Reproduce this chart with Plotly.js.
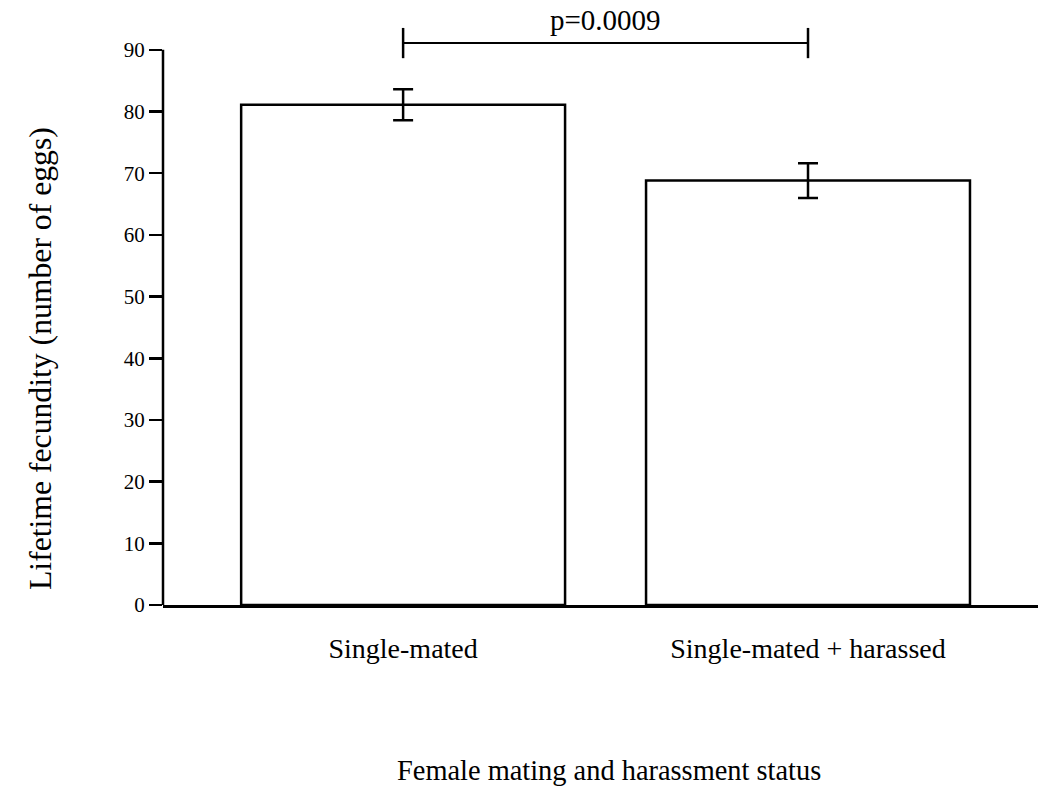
<!DOCTYPE html>
<html>
<head>
<meta charset="utf-8">
<script src="https://cdn.plot.ly/plotly-3.0.1.min.js"></script>
<style>
  html, body { margin: 0; padding: 0; background: #fff; }
  #chart { width: 1038px; height: 788px; }
</style>
</head>
<body>
<div id="chart"></div>
<script>
// Lifetime fecundity by female mating / harassment treatment
const groups = ['Single-mated', 'Single-mated + harassed'];
const meanEggs = [81.1, 68.8];
const seEggs = [2.5, 2.8];
const yTicks = [0, 10, 20, 30, 40, 50, 60, 70, 80, 90];

// significance bracket between the two groups
const pLabel = 'p=0.0009';
const bracketLevel = 91.1;
const bracketTickHalf = 2.45;

const xTitle = 'Female mating and harassment status';
const yTitle = 'Lifetime fecundity (number of eggs)';

const serif = 'Liberation Serif, Times New Roman, serif';
const ink = '#000';

const bars = {
  type: 'bar',
  x: groups,
  y: meanEggs,
  width: 0.8,
  marker: { color: '#fff', line: { color: ink, width: 2.5 } },
  error_y: {
    type: 'data', array: seEggs, visible: true,
    color: ink, thickness: 2.5, width: 10
  },
  hoverinfo: 'x+y'
};

const shapes = [
  // y axis line stops at the top tick
  { type: 'line', xref: 'paper', yref: 'y', x0: 0, x1: 0,
    y0: yTicks[0], y1: yTicks[yTicks.length - 1],
    line: { color: ink, width: 2.5 } },
  // bracket
  { type: 'line', xref: 'x', yref: 'y', x0: 0, x1: 1,
    y0: bracketLevel, y1: bracketLevel, line: { color: ink, width: 2 } },
  { type: 'line', xref: 'x', yref: 'y', x0: 0, x1: 0,
    y0: bracketLevel - bracketTickHalf, y1: bracketLevel + bracketTickHalf,
    line: { color: ink, width: 2.5 } },
  { type: 'line', xref: 'x', yref: 'y', x0: 1, x1: 1,
    y0: bracketLevel - bracketTickHalf, y1: bracketLevel + bracketTickHalf,
    line: { color: ink, width: 2.5 } }
];

const layout = {
  width: 1038,
  height: 788,
  margin: { l: 163, r: 0, t: 19, b: 183 },
  paper_bgcolor: '#fff',
  plot_bgcolor: '#fff',
  showlegend: false,
  font: { family: serif, color: ink, size: 21 },
  xaxis: {
    type: 'category',
    range: [-0.593, 1.568],
    showline: true, linecolor: ink, linewidth: 2.5,
    ticks: '', showgrid: false, zeroline: false,
    ticklabelstandoff: 17,
    tickfont: { family: serif, size: 28, color: ink }
  },
  yaxis: {
    range: [0, 95],
    tickvals: yTicks,
    ticktext: yTicks.map(String),
    showline: false, showgrid: false, zeroline: false,
    ticks: 'outside', ticklen: 13, tickwidth: 2.5, tickcolor: ink,
    tickfont: { family: serif, size: 21, color: ink }
  },
  shapes: shapes,
  annotations: [
    {
      xref: 'x', yref: 'y', x: 0.5, y: bracketLevel,
      text: pLabel, showarrow: false, yanchor: 'bottom', yshift: 5,
      font: { family: serif, size: 29, color: ink }
    },
    {
      xref: 'paper', yref: 'paper', x: 0.5097, y: -0.2816,
      text: xTitle, showarrow: false, xanchor: 'center', yanchor: 'middle',
      font: { family: serif, size: 28.4, color: ink }
    },
    {
      xref: 'paper', yref: 'paper', x: -0.1394, y: 0.4198,
      text: yTitle, showarrow: false, textangle: -90,
      xanchor: 'center', yanchor: 'middle',
      font: { family: serif, size: 31.7, color: ink }
    }
  ]
};

Plotly.newPlot('chart', [bars], layout, { displayModeBar: false, staticPlot: true });
</script>
</body>
</html>
